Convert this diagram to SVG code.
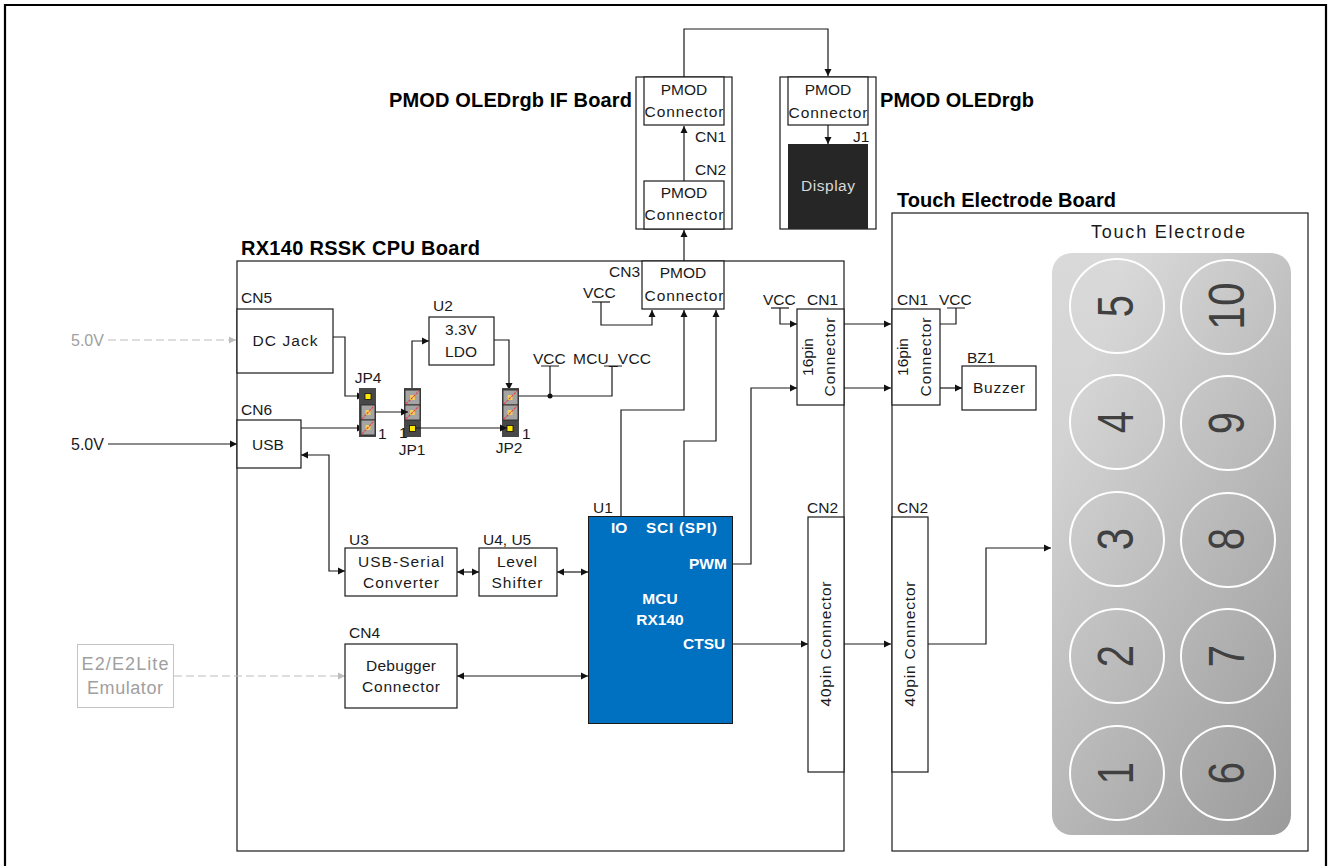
<svg xmlns="http://www.w3.org/2000/svg" width="1328" height="866" viewBox="0 0 1328 866">
<style>
text{font-family:"Liberation Sans",Arial,sans-serif;font-size:15.500px;fill:#1a1a1a}
.c{text-anchor:middle}
.t{font-size:20px;font-weight:bold;fill:#000}
.w{fill:#fff;font-weight:bold;font-size:15.500px}
.g{fill:#a0a0a0}
.n{font-size:50px;fill:#404040;text-anchor:middle}
.b{fill:#fff;stroke:#1a1a1a;stroke-width:1.200}
.bo{fill:none;stroke:#1a1a1a;stroke-width:1.200}
.l{fill:none;stroke:#1a1a1a;stroke-width:1.200}
.a{marker-end:url(#ah)}
.d{marker-start:url(#as);marker-end:url(#ah)}
.gd{fill:none;stroke:#bdbdbd;stroke-width:1.200;stroke-dasharray:8 4}
.pad{fill:#a4a4a4;stroke:#222;stroke-width:.800}
.jp{fill:#484848}
.pin{fill:#ffe800;stroke:#111;stroke-width:.800}
.pin2{fill:#f0cc60}
.x{stroke:#e8413c;stroke-width:1.100;stroke-dasharray:2.500 1}
</style>
<defs>
<marker id="ah" markerUnits="userSpaceOnUse" markerWidth="8" markerHeight="8" refX="7" refY="4" orient="auto"><path d="M0 0.500L7 4L0 7.500Z" fill="#111"/></marker>
<marker id="as" markerUnits="userSpaceOnUse" markerWidth="8" markerHeight="8" refX="0" refY="4" orient="auto"><path d="M7 0.500L0 4L7 7.500Z" fill="#111"/></marker>
<marker id="ag" markerUnits="userSpaceOnUse" markerWidth="8" markerHeight="8" refX="7" refY="4" orient="auto"><path d="M0 0.500L7 4L0 7.500Z" fill="#bdbdbd"/></marker>
<linearGradient id="pg" x1="0" y1="0" x2="0" y2="1"><stop offset="0" stop-color="#d9d9d9"/><stop offset="1" stop-color="#c6c6c6"/></linearGradient>
<linearGradient id="pg2" x1="0.100" y1="0.250" x2="1" y2="1"><stop offset="0" stop-color="#000" stop-opacity="0"/><stop offset="1" stop-color="#000" stop-opacity=".22"/></linearGradient>
</defs>
<rect width="1328" height="866" fill="#fff"/>
<path d="M5 866V5H1326V866" fill="none" stroke="#000" stroke-width="2.200"/>

<g id="board-cpu"><rect class="bo" x="237" y="261" width="607" height="590"/><text class="t" x="241" y="255" textLength="239">RX140 RSSK CPU Board</text></g>
<g id="board-touch"><rect class="bo" x="892" y="213" width="416" height="638"/><text class="t" x="897" y="207" textLength="219">Touch Electrode Board</text></g>
<g id="board-if"><rect class="bo" x="636" y="77" width="96" height="152"/><text class="t" x="389" y="107" textLength="243">PMOD OLEDrgb IF Board</text></g>
<g id="board-oled"><rect class="bo" x="780" y="77" width="96" height="152"/><text class="t" x="880" y="107" textLength="154">PMOD OLEDrgb</text></g>

<g id="connectors">
<path class="l a" d="M684 77V29H828V76"/>
<path class="l a" d="M684 181V126"/>
<path class="l a" d="M828 125V144"/>
<path class="l a" d="M684 261V230"/>
<path class="l a" d="M601 302V325H652V310"/>
<path class="l" d="M592 302H610"/>
<path class="l a" d="M621 516V410H684V310"/>
<path class="l a" d="M684 516V441H716V310"/>
<path class="l a" d="M732 564H751V388H797"/>
<path class="l a" d="M780 308V324H797"/>
<path class="l" d="M771 308H789"/>
<path class="l a" d="M844 324H891"/>
<path class="l a" d="M844 388H891"/>
<path class="l" d="M940 324H956V308M947 308H965"/>
<path class="l a" d="M940 388H962"/>
<path class="l a" d="M732 644H808"/>
<path class="l a" d="M844 644H891"/>
<path class="l a" d="M928 644H986V548H1051"/>
<path class="l a" d="M108 444H237"/>
<path class="gd" marker-end="url(#ag)" d="M108 340H236"/>
<path class="gd" marker-end="url(#ag)" d="M174 676H345"/>
<path class="l d" d="M301 455H329V571H345"/>
<path class="l d" d="M457 572H479"/>
<path class="l d" d="M557 572H588"/>
<path class="l d" d="M457 676H588"/>
<path class="l a" d="M333 337H345V396H364"/>
<path class="l a" d="M301 428H364"/>
<path class="l a" d="M412 390V341H429"/>
<path class="l a" d="M494 340H509V390"/>
<path class="l" d="M518 396H612V366M550 396V366M541 366H559M604 366H622"/>
<circle cx="550" cy="396" r="2.500" fill="#111"/>
</g>

<g id="cn5"><rect class="b" x="237" y="309" width="96" height="64"/><text class="c" x="285" y="346" textLength="65">DC Jack</text><text x="241" y="303">CN5</text></g>
<g id="cn6"><rect class="b" x="237" y="420" width="64" height="48"/><text class="c" x="268" y="450">USB</text><text x="241" y="415">CN6</text></g>
<g id="u2"><rect class="b" x="429" y="317" width="65" height="48"/><text class="c" x="461" y="335">3.3V</text><text class="c" x="461" y="357">LDO</text><text x="433" y="311">U2</text></g>
<g id="u3"><rect class="b" x="345" y="548" width="112" height="48"/><text class="c" x="401" y="567" textLength="86">USB-Serial</text><text class="c" x="401" y="588" textLength="76">Converter</text><text x="349" y="545">U3</text></g>
<g id="u4"><rect class="b" x="479" y="548" width="78" height="48"/><text class="c" x="517" y="567" textLength="40">Level</text><text class="c" x="517" y="588" textLength="51">Shifter</text><text x="483" y="545">U4, U5</text></g>
<g id="cn4"><rect class="b" x="345" y="644" width="112" height="64"/><text class="c" x="401" y="671" textLength="70">Debugger</text><text class="c" x="401" y="692" textLength="78">Connector</text><text x="349" y="638">CN4</text></g>
<g id="u1"><rect x="588.500" y="516.500" width="144" height="207" fill="#0070c0" stroke="#1a1a1a"/><text class="w" x="611" y="533">IO</text><text class="w" x="646" y="533" textLength="71">SCI (SPI)</text><text class="w" x="689" y="569">PWM</text><text class="w c" x="660" y="604">MCU</text><text class="w c" x="660" y="625">RX140</text><text class="w" x="683" y="649">CTSU</text><text x="593" y="513">U1</text></g>
<g id="cn3"><rect class="b" x="642" y="261" width="82" height="48"/><text class="c" x="683" y="278">PMOD</text><text class="c" x="684" y="301" textLength="79">Connector</text><text x="609" y="277">CN3</text><text x="583" y="298">VCC</text></g>
<g id="if-cn1"><rect class="b" x="644" y="77" width="80" height="48"/><text class="c" x="684" y="95">PMOD</text><text class="c" x="684" y="117" textLength="79">Connector</text><text x="695" y="142">CN1</text></g>
<g id="if-cn2"><rect class="b" x="644" y="181" width="80" height="48"/><text class="c" x="684" y="198">PMOD</text><text class="c" x="684" y="220" textLength="79">Connector</text><text x="695" y="175">CN2</text></g>
<g id="oled-j1"><rect class="b" x="788" y="77" width="80" height="48"/><text class="c" x="828" y="95">PMOD</text><text class="c" x="828" y="118" textLength="79">Connector</text><text x="853" y="142">J1</text></g>
<g id="display"><rect x="788" y="144" width="80" height="85" fill="#262626"/><text class="c" x="828" y="191" textLength="54" style="fill:#d9d9d9">Display</text></g>
<g id="cn1-a"><rect class="b" x="797" y="309" width="47" height="96"/><text class="c" transform="translate(813,357) rotate(-90)">16pin</text><text class="c" transform="translate(835,357) rotate(-90)" textLength="79">Connector</text><text x="807" y="305">CN1</text><text x="763" y="305">VCC</text></g>
<g id="cn1-b"><rect class="b" x="892" y="309" width="48" height="96"/><text class="c" transform="translate(908,357) rotate(-90)">16pin</text><text class="c" transform="translate(931,357) rotate(-90)" textLength="79">Connector</text><text x="897" y="305">CN1</text><text x="939" y="305">VCC</text></g>
<g id="bz1"><rect class="b" x="962" y="366" width="74" height="44"/><text class="c" x="999" y="393" textLength="52">Buzzer</text><text x="967" y="363">BZ1</text></g>
<g id="cn2-a"><rect class="b" x="808" y="517" width="36" height="255"/><text class="c" transform="translate(831,644) rotate(-90)" textLength="125">40pin Connector</text><text x="807" y="513">CN2</text></g>
<g id="cn2-b"><rect class="b" x="892" y="517" width="36" height="255"/><text class="c" transform="translate(915,644) rotate(-90)" textLength="125">40pin Connector</text><text x="897" y="513">CN2</text></g>
<g id="e2"><rect x="77.500" y="644.500" width="96" height="63" fill="#fff" stroke="#c4c4c4"/><text class="c g" x="125" y="670" textLength="87" style="font-size:18px">E2/E2Lite</text><text class="c g" x="125" y="694" textLength="76" style="font-size:18px">Emulator</text></g>
<text x="71" y="346" class="g" style="font-size:16px">5.0V</text>
<text x="71" y="450" style="font-size:16px">5.0V</text>
<text x="533" y="364">VCC</text><text x="573" y="364" textLength="78">MCU_VCC</text>

<g id="jp4"><rect class="jp" x="359" y="388" width="17" height="49"/><rect class="pad" x="361" y="405" width="14" height="15"/><rect class="pad" x="361" y="420" width="14" height="15"/><rect class="pin" x="365" y="393.500" width="6" height="6"/><rect class="pin2" x="365.500" y="410" width="5" height="5"/><rect class="pin2" x="365.500" y="425" width="5" height="5"/><path class="x" d="M362 419L374 406M362 434L374 421"/><text x="378" y="439">1</text><text class="c" x="368" y="383">JP4</text></g>
<g id="jp1"><rect class="jp" x="404" y="388" width="17" height="49"/><rect class="pad" x="405" y="390" width="15" height="15"/><rect class="pad" x="405" y="405" width="15" height="15"/><rect class="pin" x="409.500" y="425.500" width="6" height="6"/><rect class="pin2" x="410" y="395" width="5" height="5"/><rect class="pin2" x="410" y="410" width="5" height="5"/><path class="x" d="M406 404L419 391M406 419L419 406"/><text x="399" y="437.500">1</text><text class="c" x="412" y="455">JP1</text></g>
<g id="jp2"><rect class="jp" x="502" y="388" width="17" height="49"/><rect class="pad" x="503" y="390" width="15" height="15"/><rect class="pad" x="503" y="405" width="15" height="15"/><rect class="pin" x="507" y="425.500" width="6" height="6"/><rect class="pin2" x="507.500" y="395" width="5" height="5"/><rect class="pin2" x="507.500" y="410" width="5" height="5"/><path class="x" d="M504 404L517 391M504 419L517 406"/><text x="522" y="439">1</text><text class="c" x="509" y="453">JP2</text></g>
<g id="jump-links"><path class="l a" d="M375 412H408"/><path class="l a" d="M415 428H507"/></g>

<g id="electrode"><rect x="1052" y="253" width="239" height="582" rx="20" fill="url(#pg)"/><rect x="1052" y="253" width="239" height="582" rx="20" fill="url(#pg2)"/>
<text class="c" x="1168" y="238" textLength="154" style="font-size:18px">Touch Electrode</text>
<g fill="none" stroke="#fff" stroke-width="2"><circle cx="1117" cy="306" r="47"/><circle cx="1228" cy="307" r="47"/><circle cx="1117" cy="422" r="47"/><circle cx="1228" cy="423" r="47"/><circle cx="1117" cy="539" r="47"/><circle cx="1228" cy="540" r="47"/><circle cx="1117" cy="656" r="47"/><circle cx="1228" cy="656" r="47"/><circle cx="1117" cy="773" r="47"/><circle cx="1228" cy="773" r="47"/></g>
<text class="n" transform="translate(1133,306) rotate(-90) scale(.8,1)">5</text>
<text class="n" transform="translate(1244,306) rotate(-90) scale(.85,1)">10</text>
<text class="n" transform="translate(1133,422) rotate(-90) scale(.8,1)">4</text>
<text class="n" transform="translate(1244,423) rotate(-90) scale(.8,1)">9</text>
<text class="n" transform="translate(1133,539) rotate(-90) scale(.8,1)">3</text>
<text class="n" transform="translate(1244,539) rotate(-90) scale(.8,1)">8</text>
<text class="n" transform="translate(1133,656) rotate(-90) scale(.8,1)">2</text>
<text class="n" transform="translate(1244,656) rotate(-90) scale(.8,1)">7</text>
<text class="n" transform="translate(1133,773) rotate(-90) scale(.8,1)">1</text>
<text class="n" transform="translate(1244,773) rotate(-90) scale(.8,1)">6</text>
</g>
</svg>
